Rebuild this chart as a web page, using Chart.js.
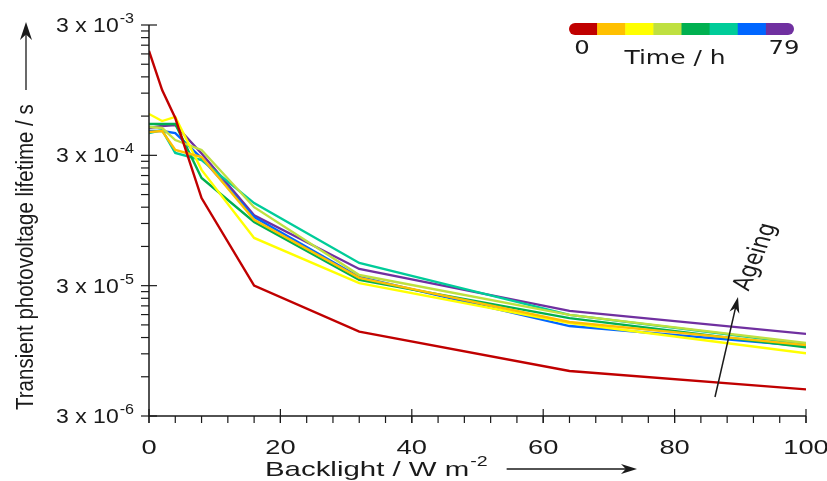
<!DOCTYPE html>
<html lang="en">
<head>
<meta charset="UTF-8">
<title>Transient photovoltage lifetime vs backlight</title>
<script src="https://cdn.jsdelivr.net/npm/chart.js"></script>
<style>
  html, body { margin: 0; padding: 0; background: #fff; }
  #wrap { width: 827px; height: 481px; position: relative; }
</style>
</head>
<body>
<div id="wrap"><canvas id="myChart"></canvas></div>
<script>
// backlight intensity (W m-2)
const backlight = [0, 2, 4, 8, 16, 32, 64, 100];

// transient photovoltage lifetime (s), one array per ageing step (0 h ... 79 h)
const life0 = [1.90e-3, 9.5e-4, 5.8e-4, 1.41e-4, 3.0e-5, 1.33e-5, 6.65e-6, 4.8e-6];
const life1 = [4.53e-4, 4.61e-4, 3.30e-4, 2.91e-4, 9.6e-5, 3.44e-5, 1.58e-5, 1.05e-5];
const life2 = [6.23e-4, 5.50e-4, 5.91e-4, 2.32e-4, 6.97e-5, 3.14e-5, 1.55e-5, 9.1e-6];
const life3 = [4.95e-4, 4.86e-4, 3.93e-4, 3.30e-4, 1.20e-4, 3.62e-5, 1.79e-5, 1.09e-5];
const life4 = [5.22e-4, 5.22e-4, 5.22e-4, 2.01e-4, 9.24e-5, 3.32e-5, 1.69e-5, 1.01e-5];
const life5 = [4.45e-4, 4.69e-4, 3.13e-4, 2.76e-4, 1.29e-4, 4.48e-5, 1.79e-5, 1.07e-5];
const life6 = [4.61e-4, 4.61e-4, 4.45e-4, 2.86e-4, 1.01e-4, 3.50e-5, 1.47e-5, 1.03e-5];
const life7 = [4.86e-4, 5.04e-4, 5.13e-4, 3.10e-4, 1.04e-4, 4.03e-5, 1.92e-5, 1.28e-5];

const seriesLabels = ['step 1', 'step 2', 'step 3', 'step 4', 'step 5', 'step 6', 'step 7', 'step 8'];
const seriesColors = ['#c00000', '#ffc000', '#ffff00', '#bfe040', '#00b050', '#00cc99', '#0066ff', '#7030a0'];
const allSeries = [life0, life1, life2, life3, life4, life5, life6, life7];

// axis ticks
const xMajor = [0, 20, 40, 60, 80, 100];
const xMinorStep = 4;
const yMajor = [3e-6, 3e-5, 3e-4, 3e-3];
const yExp = ['-6', '-5', '-4', '-3'];

const timeLabels = ['0', '79'];

const FONT = '"Liberation Sans", Arial, sans-serif';
const FONT2 = '"DejaVu Sans", Verdana, sans-serif';
const INK = '#1a1a1a';

// text is a bit wide in the original, so stretch it horizontally
function wideText(ctx, txt, x, y, sx, align) {
    const w = ctx.measureText(txt).width * sx;
    let x0 = x;
    if (align === 'center') x0 = x - w / 2;
    if (align === 'right') x0 = x - w;
    ctx.save();
    ctx.textAlign = 'left';
    ctx.translate(x0, y);
    ctx.scale(sx, 1);
    ctx.fillText(txt, 0, 0);
    ctx.restore();
    return w;
}

function arrow(ctx, x1, y1, x2, y2, len, half) {
    const a = Math.atan2(y2 - y1, x2 - x1);
    ctx.beginPath();
    ctx.moveTo(x1, y1);
    ctx.lineTo(x2 - Math.cos(a) * len * 0.6, y2 - Math.sin(a) * len * 0.6);
    ctx.stroke();
    ctx.beginPath();
    ctx.moveTo(x2, y2);
    ctx.lineTo(x2 - Math.cos(a) * len + Math.sin(a) * half, y2 - Math.sin(a) * len - Math.cos(a) * half);
    ctx.lineTo(x2 - Math.cos(a) * len * 0.7, y2 - Math.sin(a) * len * 0.7);
    ctx.lineTo(x2 - Math.cos(a) * len - Math.sin(a) * half, y2 - Math.sin(a) * len + Math.cos(a) * half);
    ctx.closePath();
    ctx.fill();
}

const decor = {
    id: 'decor',
    afterDraw(chart) {
        const ctx = chart.ctx;
        const xs = chart.scales.x, ys = chart.scales.y;
        const area = chart.chartArea;
        ctx.save();
        ctx.strokeStyle = INK;
        ctx.fillStyle = INK;
        ctx.textBaseline = 'alphabetic';
        ctx.lineWidth = 1.5;

        // axis lines
        ctx.beginPath();
        ctx.moveTo(area.left, area.top);
        ctx.lineTo(area.left, area.bottom);
        ctx.lineTo(area.right, area.bottom);
        ctx.stroke();

        // y ticks: major crossing the axis, minor outside
        ctx.lineWidth = 1.2;
        yMajor.forEach((v, i) => {
            const py = ys.getPixelForValue(v);
            ctx.beginPath();
            ctx.moveTo(area.left - 8, py);
            ctx.lineTo(area.left + 8, py);
            ctx.stroke();
            if (i < yMajor.length - 1) {
                for (let k = 2; k <= 9; k++) {
                    const my = ys.getPixelForValue(v * k);
                    ctx.beginPath();
                    ctx.moveTo(area.left - 8, my);
                    ctx.lineTo(area.left, my);
                    ctx.stroke();
                }
            }
            // label 3 x 10^n
            ctx.font = '14px ' + FONT;
            const we = ctx.measureText(yExp[i]).width * 1.15;
            ctx.font = '20px ' + FONT;
            const wb = ctx.measureText('3 x 10').width * 1.15;
            const x0 = 134 - wb - we - 1;
            wideText(ctx, '3 x 10', x0, py + 7, 1.15, 'left');
            ctx.font = '14px ' + FONT;
            wideText(ctx, yExp[i], x0 + wb + 1, py - 2, 1.15, 'left');
        });

        // x ticks
        for (let v = 0; v <= 100; v += xMinorStep) {
            const px = xs.getPixelForValue(v);
            ctx.beginPath();
            ctx.moveTo(px, area.bottom);
            ctx.lineTo(px, area.bottom + 7);
            ctx.stroke();
        }
        ctx.font = '21px ' + FONT;
        xMajor.forEach(v => {
            const px = xs.getPixelForValue(v);
            ctx.beginPath();
            ctx.moveTo(px, area.bottom - 7);
            ctx.lineTo(px, area.bottom + 7);
            ctx.stroke();
            wideText(ctx, String(v), px, area.bottom + 38, 1.3, 'center');
        });

        // x title
        ctx.font = '21px ' + FONT;
        const wx = wideText(ctx, 'Backlight / W m', 265, 476, 1.4, 'left');
        ctx.font = '14px ' + FONT;
        const ws = wideText(ctx, '-2', 265 + wx + 1, 466, 1.4, 'left');
        ctx.lineWidth = 1.3;
        arrow(ctx, 265 + wx + ws + 20, 469, 637, 469, 16, 5);

        // y title
        ctx.save();
        ctx.translate(33, 410);
        ctx.scale(1.2, 1);
        ctx.rotate(-Math.PI / 2);
        ctx.font = '20.5px ' + FONT;
        ctx.textAlign = 'left';
        ctx.fillText('Transient photovoltage lifetime / s', 0, 0);
        ctx.restore();
        arrow(ctx, 26, 90, 26, 22, 18, 6);

        // time colour bar
        const bx = 569, by = 23, bw = 225, bh = 12;
        ctx.save();
        ctx.beginPath();
        ctx.roundRect(bx, by, bw, bh, 6);
        ctx.clip();
        seriesColors.forEach((c, i) => {
            ctx.fillStyle = c;
            ctx.fillRect(bx + i * bw / seriesColors.length, by, bw / seriesColors.length + 0.5, bh);
        });
        ctx.restore();
        ctx.fillStyle = INK;
        ctx.font = '19.5px ' + FONT2;
        wideText(ctx, timeLabels[0], 582, 54, 1.25, 'center');
        wideText(ctx, timeLabels[1], 784, 54, 1.25, 'center');
        wideText(ctx, 'Time / h', 675, 64, 1.28, 'center');

        // ageing arrow
        ctx.lineWidth = 1.5;
        arrow(ctx, 715, 397, 738, 297, 16, 5);
        ctx.save();
        ctx.translate(756, 257);
        ctx.scale(1.3, 1);
        ctx.rotate(-72 * Math.PI / 180);
        ctx.font = '20px ' + FONT2;
        ctx.textAlign = 'center';
        ctx.textBaseline = 'middle';
        ctx.fillText('Ageing', 0, 0);
        ctx.restore();

        ctx.restore();
    }
};

const ctx = document.getElementById('myChart').getContext('2d');
const chart = new Chart(ctx, {
    type: 'line',
    data: {
        datasets: allSeries.map((vals, i) => ({
            label: seriesLabels[i],
            data: backlight.map((x, j) => ({ x: x, y: vals[j] })),
            borderColor: seriesColors[i],
            borderWidth: 2.4,
            pointRadius: 0,
            tension: 0,
            fill: false
        }))
    },
    options: {
        responsive: true,
        maintainAspectRatio: false,
        animation: false,
        layout: { padding: { top: 25, right: 21, left: 0, bottom: 0 } },
        plugins: { legend: { display: false }, tooltip: { enabled: false } },
        scales: {
            x: {
                type: 'linear', min: 0, max: 100,
                grid: { display: false }, border: { display: false },
                ticks: { display: false },
                afterFit: s => { s.height = 65; }
            },
            y: {
                type: 'logarithmic', min: 3e-6, max: 3e-3,
                grid: { display: false }, border: { display: false },
                ticks: { display: false },
                afterFit: s => { s.width = 149; }
            }
        }
    },
    plugins: [decor]
});
</script>
</body>
</html>
